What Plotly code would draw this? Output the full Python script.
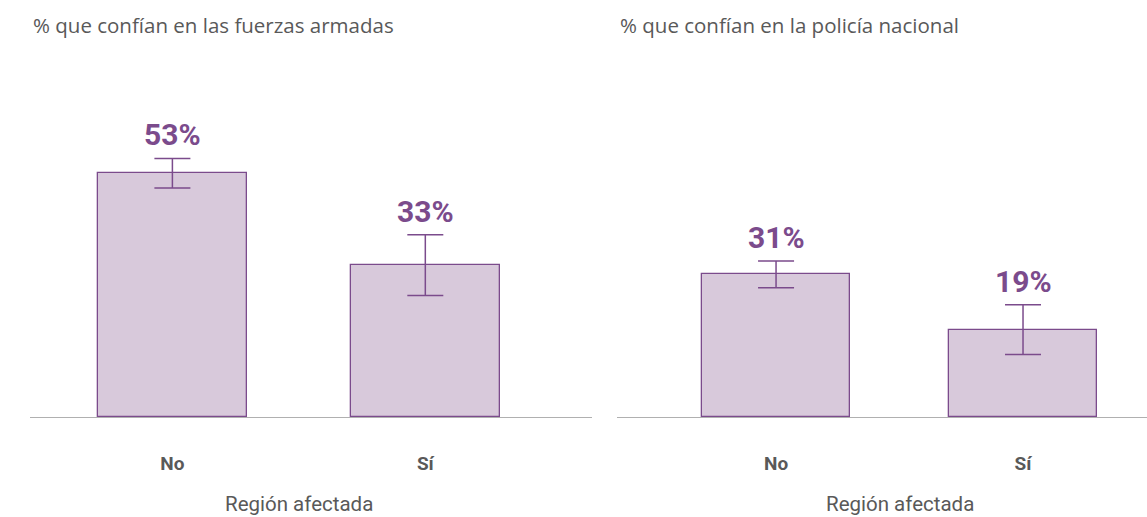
import plotly.graph_objects as go

categories = ["No", "Sí"]
armed_values = [53, 33]
armed_err = [3.2, 6.6]
police_values = [31, 19]
police_err = [2.9, 5.4]
title_left = "% que confían en las fuerzas armadas"
title_right = "% que confían en la policía nacional"
axis_title = "Región afectada"

FILL = "#d8c9db"
PURPLE = "#7b4b8c"
GRAY = "#595959"

fig = go.Figure()
x_pos = list(range(len(categories)))

for vals, errs, xa, ya, bw in [(armed_values, armed_err, "x", "y", 0.59), (police_values, police_err, "x2", "y2", 0.6)]:
    fig.add_trace(go.Bar(
        x=x_pos, y=vals, width=bw, xaxis=xa, yaxis=ya,
        marker=dict(color=FILL, line=dict(color=PURPLE, width=1.3)),
        error_y=dict(type="data", array=errs, visible=True, color=PURPLE, thickness=1.5, width=18),
        hoverinfo="skip", showlegend=False,
    ))
    for xi, v, e in zip(x_pos, vals, errs):
        fig.add_annotation(x=xi, y=v + e, xref=xa, yref=ya, text=f"<b>{v}%</b>", showarrow=False,
                           yanchor="bottom", yshift=4,
                           font=dict(family="Roboto", size=30, color=PURPLE))
    fig.add_annotation(x=0.5, xref=xa, y=-0.245, yref="paper", text=axis_title, showarrow=False,
                       yanchor="middle", font=dict(family="Roboto", size=20.5, color=GRAY))

left_w = 562 / 1117
right_start = 587 / 1117

common_x = dict(tickvals=x_pos, ticktext=categories, showgrid=False, zeroline=False,
                showline=True, linecolor="#b0b0b0", linewidth=1, ticks="",
                ticklabelstandoff=29,
                tickfont=dict(family="Roboto", size=19, color=GRAY, weight="bold"))
common_y = dict(range=[0, 77.6], visible=False, showgrid=False, zeroline=False)

fig.update_layout(
    width=1147, height=517,
    margin=dict(l=30, r=0, t=60, b=100),
    plot_bgcolor="white", paper_bgcolor="white",
    xaxis=dict(domain=[0, left_w], range=[-0.563, 1.659], **common_x),
    xaxis2=dict(domain=[right_start, 1], range=[-0.644, 1.502], anchor="y2", **common_x),
    yaxis=dict(**common_y),
    yaxis2=dict(anchor="x2", **common_y),
    bargap=0,
)

title_y = (417 - 25) / 357
for txt, xp in [(title_left, 0), (title_right, right_start)]:
    fig.add_annotation(x=xp, xref="paper", xanchor="left", y=title_y, yref="paper", yanchor="middle",
                       text=txt, showarrow=False, xshift=1,
                       font=dict(family="Open Sans", size=20.5, color=GRAY))

fig.write_html("out.html", config={"displayModeBar": False},
               post_script="document.body.style.margin='0';document.body.style.overflow='hidden';")
